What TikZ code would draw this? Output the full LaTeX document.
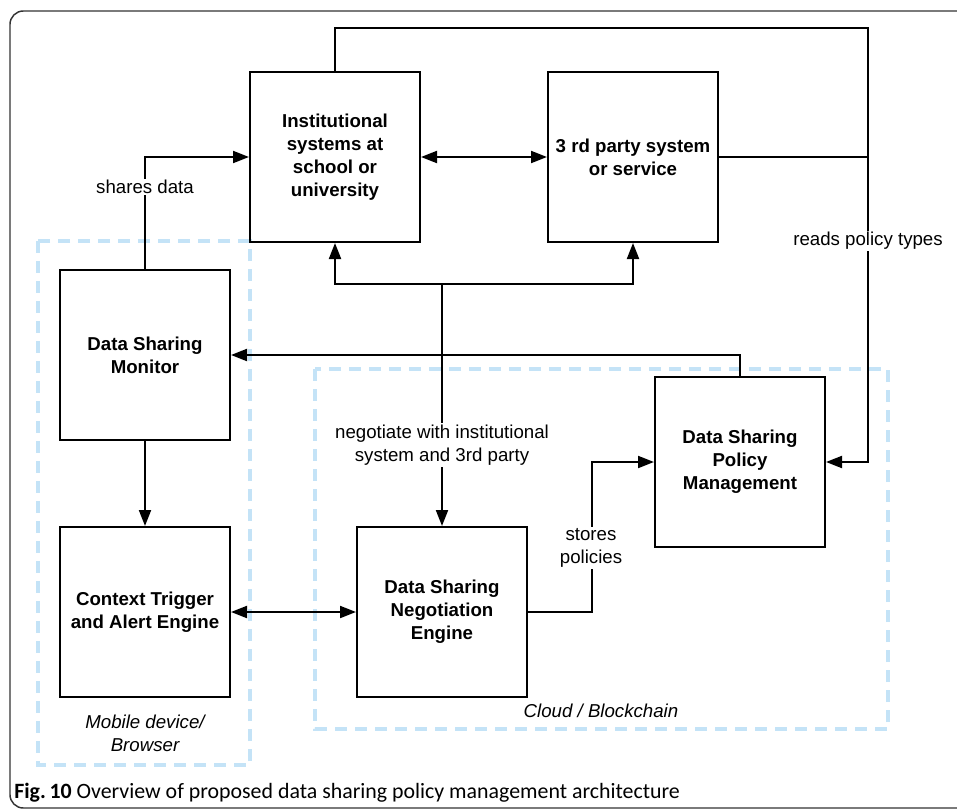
\documentclass[tikz,border=0pt]{standalone}
\usepackage{fontspec}
\setmainfont{Liberation Sans}
\newfontfamily\capfont{Carlito}
\usetikzlibrary{arrows.meta}
\definecolor{zoneblue}{HTML}{C4E3F7}
\definecolor{framegray}{HTML}{333333}
\begin{document}
\begin{tikzpicture}[x=0.75pt,y=-0.75pt,
  comp/.style={draw=black,line width=1.5pt,minimum width=127.5pt,minimum height=127.5pt,
    align=center,font=\fontsize{14}{17.3}\selectfont\bfseries,inner sep=2pt},
  zone/.style={draw=zoneblue,line width=3pt,dash pattern=on 9pt off 6pt},
  conn/.style={line width=1.5pt,draw=black},
  arr/.style={conn,-{Triangle[length=12pt,width=9pt]}},
  arrtwo/.style={conn,{Triangle[length=12pt,width=9pt]}-{Triangle[length=12pt,width=9pt]}},
  lbl/.style={fill=white,align=center,inner sep=1pt,font=\fontsize{14}{17.3}\selectfont},
  zlbl/.style={align=center,font=\fontsize{14}{17.3}\selectfont\itshape}]
\useasboundingbox (0,0) rectangle (957,810);
\fill[white] (0,0) rectangle (957,810);
% outer figure frame
\draw[framegray,line width=1.1pt,rounded corners=10pt] (10,11) rectangle (985,808);

% zones
\draw[zone] (38,241) rectangle (250,765);
\draw[zone] (315,369) rectangle (888,729);

% components
\node[comp] (inst) at (335,157) {Institutional\\systems at\\school or\\university};
\node[comp] (third) at (633,157) {3 rd party system\\or service};
\node[comp] (mon) at (145,355) {Data Sharing\\Monitor};
\node[comp] (ctx) at (145,612) {Context Trigger\\and Alert Engine};
\node[comp] (neg) at (442,612) {Data Sharing\\Negotiation\\Engine};
\node[comp] (pol) at (740,462) {Data Sharing\\Policy\\Management};

% routing points
\coordinate (tr) at (868,28);
\coordinate (hub) at (442,284);

% connectors
\draw[arr] (inst.north) |- (tr) |- (pol.east);
\draw[conn] (third.east) -- (third.east -| tr);
\draw[arrtwo] (inst.east) -- (third.west);
\draw[arr] (mon.north) |- (inst.west);
\draw[arr] (hub) -| (inst.south);
\draw[arr] (hub) -| (third.south);
\draw[arr] (hub) -- (neg.north);
\draw[arr] (pol.north) |- (mon.east);
\draw[arr] (mon.south) -- (ctx.north);
\draw[arrtwo] (ctx.east) -- (neg.west);
\draw[arr] (neg.east) -- ++(64,0) |- (pol.west);

% connector labels
\node[lbl] (lshare) at (145,187) {shares data};
\node[lbl] (lread) at (868,241) {reads policy types};
\node[lbl] (lnego) at (442,445) {negotiate with institutional\\system and 3rd party};
\node[lbl] (lstore) at (591,548) {stores\\policies};

% zone labels
\node[zlbl] (zmob) at (145,733) {Mobile device/\\Browser};
\node[zlbl] (zcloud) at (601,711) {Cloud / Blockchain};

% caption
\node[anchor=west,inner sep=0pt,font=\capfont\fontsize{16.4}{19}\selectfont] (cap) at (14,793)
  {\textbf{Fig.\,10} Overview of proposed data sharing policy management architecture};
\end{tikzpicture}
\end{document}
